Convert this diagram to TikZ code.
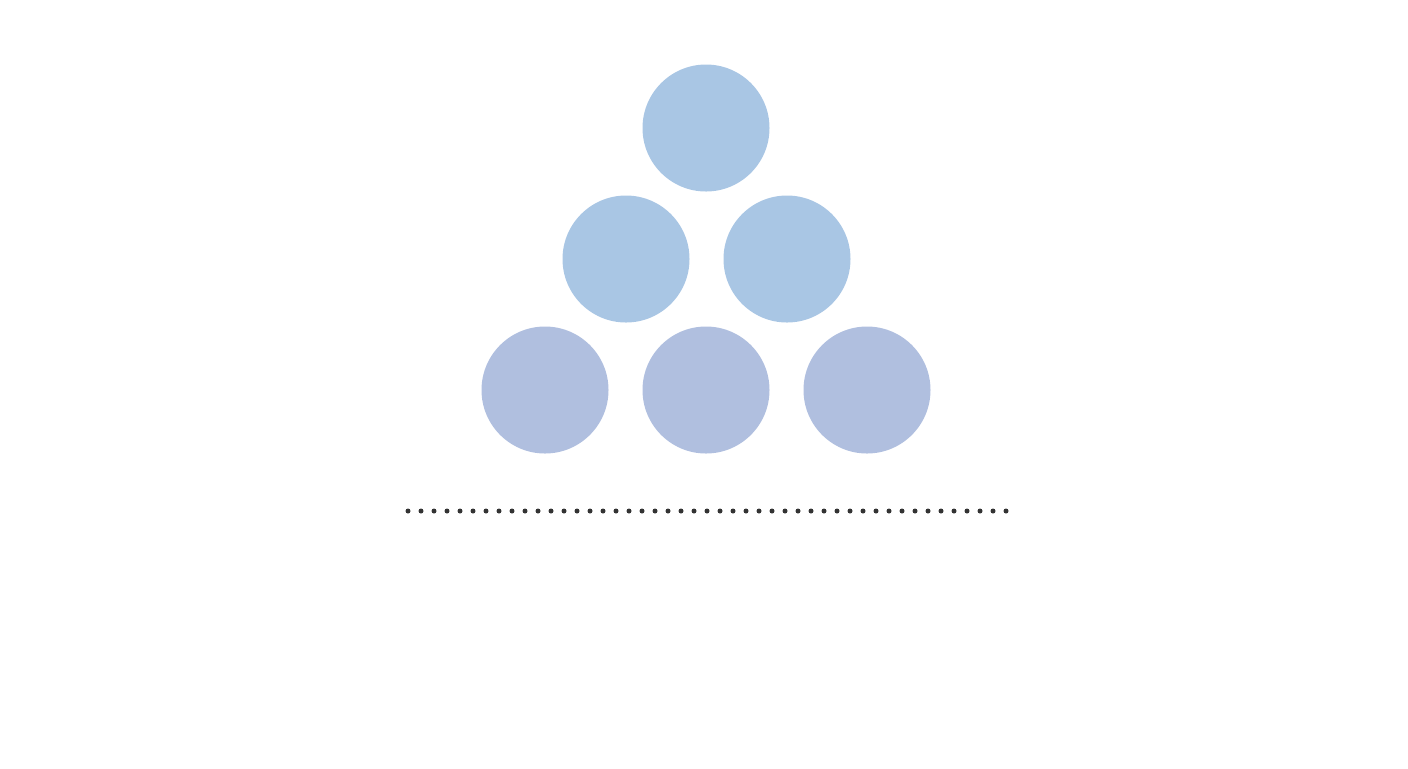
\documentclass[tikz,border=0pt]{standalone}
\usepackage{tikz}
\usetikzlibrary{positioning}

\definecolor{UpperBlue}{HTML}{A9C6E4}
\definecolor{LowerBlue}{HTML}{B0BFDF}
\definecolor{DotGray}{HTML}{333333}

\begin{document}
\begin{tikzpicture}[x=0.5pt, y=-0.5pt]
		\tikzstyle{Ball}	= [circle, minimum size=63.5pt, inner sep=0pt]
		\tikzstyle{Upper}	= [fill=UpperBlue]
		\tikzstyle{Lower}	= [fill=LowerBlue]
		\tikzstyle{Floor}	= [DotGray, line width=2.5pt, line cap=round, dash pattern=on 0pt off 6.5pt]

		\useasboundingbox (0,0) rectangle (1408,768);

		\node (b1) at (706, 128) [Ball][Upper] {};
		\node (b2) at (626, 259) [Ball][Upper] {};
		\node (b3) at (787, 259) [Ball][Upper] {};
		\node (b4) at (545, 390) [Ball][Lower] {};
		\node (b5) at (706, 390) [Ball][Lower] {};
		\node (b6) at (867, 390) [Ball][Lower] {};

		\coordinate (f1) at (408, 511);
		\coordinate (f2) at (1007, 511);

		\draw [-] (f1) to (f2) [Floor];
	\end{tikzpicture}
\end{document}
